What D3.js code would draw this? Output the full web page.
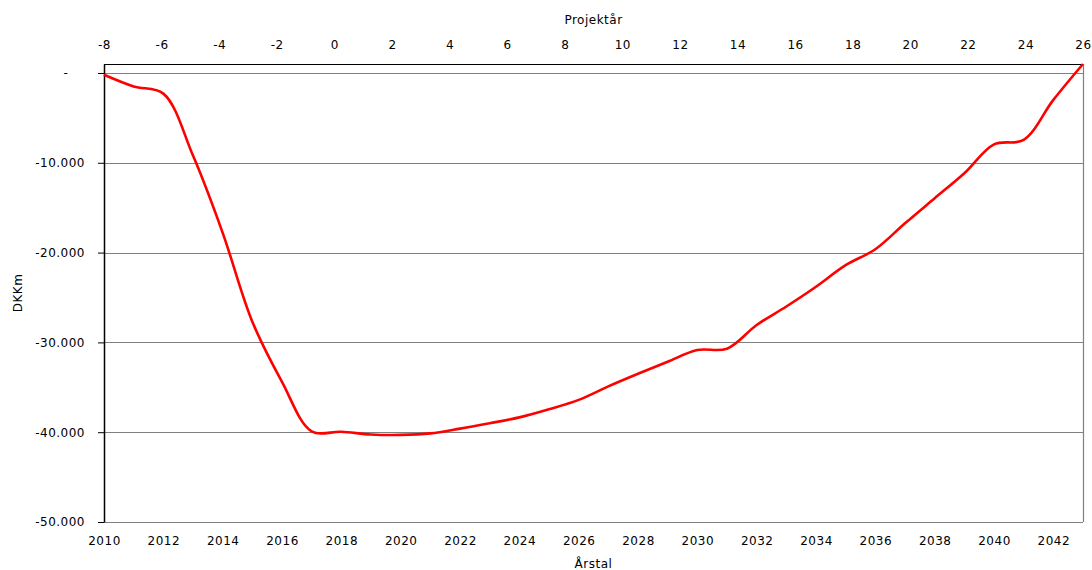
<!DOCTYPE html>
<html>
<head>
<meta charset="utf-8">
<script src="https://cdn.jsdelivr.net/npm/d3@7"></script>
<style>
  body { margin: 0; background: #fff; }
  text { font-family: "DejaVu Sans", Verdana, sans-serif; }
</style>
</head>
<body>
<svg id="chart" width="1092" height="570"></svg>
<script>
// yearly values, DKKm
const years = d3.range(2010, 2044);
const values = [
  -200, -1500, -2300, -9200, -17800, -27700, -34400, -39900, -39950, -40250,
  -40300, -40130, -39600, -39000, -38350, -37450, -36400, -34900, -33500, -32150,
  -30850, -30700, -28060, -26000, -23800, -21400, -19630, -16740, -13950, -11170,
  -7950, -7450, -3000, 1000
];
const yTicks = [0, -10000, -20000, -30000, -40000, -50000];
const xTicks = d3.range(2010, 2043, 2);
const projTicks = d3.range(-8, 27, 2);

const svg = d3.select("#chart"),
  margin = {top: 64, right: 9, bottom: 48, left: 104},
  width = +svg.attr("width") - margin.left - margin.right,
  height = +svg.attr("height") - margin.top - margin.bottom,
  g = svg.append("g").attr("transform", "translate(" + margin.left + "," + margin.top + ")");

const data = years.map((d, i) => ({year: d, value: values[i]}));

const x = d3.scaleLinear().domain([2010, 2043]).range([0, width]);
const xTop = d3.scaleLinear().domain([-8, 26]).range([0, width]);
const y = d3.scaleLinear().domain([-50000, 1000]).range([height, 0]);

const loc = d3.formatLocale({decimal: ",", thousands: ".", grouping: [3], currency: ["", ""], minus: "-"});
const fmt = loc.format(",d");
const intFmt = loc.format("d");

// gridlines
g.append("g")
  .selectAll("line")
  .data(yTicks)
  .enter().append("line")
    .attr("x1", 0)
    .attr("x2", width)
    .attr("y1", d => Math.round(y(d)) + 0.5)
    .attr("y2", d => Math.round(y(d)) + 0.5)
    .attr("stroke", "#808080")
    .attr("stroke-width", 1.2);

// right border
g.append("line")
  .attr("x1", width + 0.5).attr("x2", width + 0.5)
  .attr("y1", 0).attr("y2", height)
  .attr("stroke", "#808080").attr("stroke-width", 1.2);

// top border
g.append("line")
  .attr("x1", 0).attr("x2", width)
  .attr("y1", 0.5).attr("y2", 0.5)
  .attr("stroke", "#000").attr("stroke-width", 1.2);

// left axis
const yAxis = g.append("g")
  .attr("class", "axis")
  .call(d3.axisLeft(y).tickValues(yTicks).tickSize(6).tickSizeOuter(0).tickPadding(13).tickFormat(fmt));
yAxis.select(".domain").attr("stroke", "#000").attr("stroke-width", 1.5);
yAxis.selectAll(".tick line").attr("stroke", "#000");
yAxis.selectAll(".tick text")
  .attr("font-size", 12)
  .attr("letter-spacing", 0.5)
  .attr("fill", "#000");
yAxis.selectAll(".tick").filter(d => d === 0).select("text")
  .attr("x", -38)
  .attr("text-anchor", "middle")
  .text("-");

// bottom axis
const xAxis = g.append("g")
  .attr("transform", "translate(0," + height + ")")
  .call(d3.axisBottom(x).tickValues(xTicks).tickSize(0).tickPadding(14).tickFormat(intFmt));
xAxis.select(".domain").remove();
xAxis.selectAll(".tick text").attr("font-size", 12).attr("letter-spacing", 0.5).attr("fill", "#000");

// top axis (project year)
const topAxis = g.append("g")
  .call(d3.axisTop(xTop).tickValues(projTicks).tickSize(0).tickPadding(15).tickFormat(intFmt));
topAxis.select(".domain").remove();
topAxis.selectAll(".tick text").attr("font-size", 12).attr("letter-spacing", 0.5).attr("fill", "#000");

// the line
g.append("path")
  .datum(data)
  .attr("fill", "none")
  .attr("stroke", "#ff0000")
  .attr("stroke-width", 2.6)
  .attr("stroke-linejoin", "round")
  .attr("d", d3.line()
    .x(d => x(d.year))
    .y(d => y(d.value))
    .curve(d3.curveCatmullRom.alpha(0.5)));

// axis titles
svg.append("text")
  .attr("x", margin.left + width / 2)
  .attr("y", 24)
  .attr("text-anchor", "middle")
  .attr("font-size", 12)
  .attr("letter-spacing", 0.5)
  .text("Projektår");

svg.append("text")
  .attr("x", margin.left + width / 2)
  .attr("y", 568)
  .attr("text-anchor", "middle")
  .attr("font-size", 12)
  .attr("letter-spacing", 0.5)
  .text("Årstal");

svg.append("text")
  .attr("transform", "translate(22," + (margin.top + height / 2) + ") rotate(-90)")
  .attr("text-anchor", "middle")
  .attr("font-size", 12)
  .attr("letter-spacing", 0.5)
  .text("DKKm");
</script>
</body>
</html>
